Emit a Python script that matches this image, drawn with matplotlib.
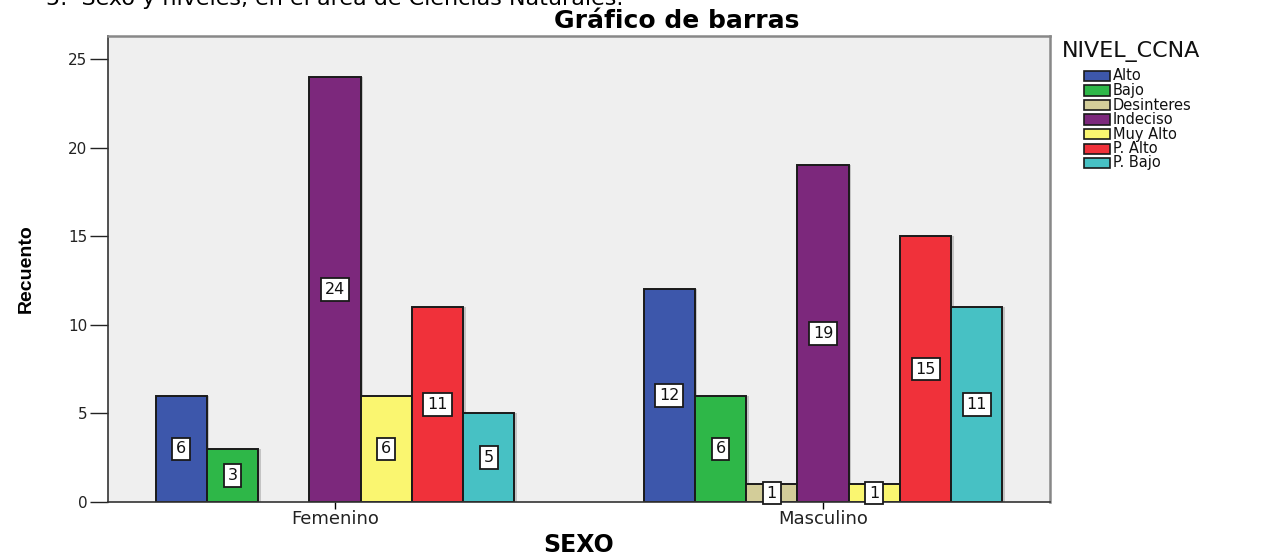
import numpy as np
import matplotlib
matplotlib.use("Agg")
import matplotlib.pyplot as plt
from matplotlib.patches import Rectangle

plt.rcParams['font.family'] = ['DejaVu Sans']

# data
sexo = ["Femenino", "Masculino"]
niveles = ["Alto", "Bajo", "Desinteres", "Indeciso", "Muy Alto", "P. Alto", "P. Bajo"]
fem = [6, 3, 0, 24, 6, 11, 5]
masc = [12, 6, 1, 19, 1, 15, 11]
colores = ["#3D57AB", "#2EB748", "#D3CD99", "#7C287C", "#FAF670", "#F0313A", "#47C1C4"]

W, H = 1267, 555
fig = plt.figure(figsize=(W / 100, H / 100), dpi=100)
ax = fig.add_axes([108 / W, 1 - 502 / H, (1050 - 108) / W, (502 - 36) / H])
ax.set_facecolor("#EFEFEF")

w = 0.105
x = np.arange(len(sexo))
for i, nivel in enumerate(niveles):
    vals = [fem[i], masc[i]]
    pos = x + (i - 3) * w
    for p, v in zip(pos, vals):
        if v == 0:
            continue
        # faint drop shadow like the original export
        ax.bar(p + 0.005, v, width=w, color="#9a9a9a", alpha=0.5, linewidth=0, zorder=1.5)
        ax.bar(p, v, width=w, color=colores[i], edgecolor="#1a1a1a", linewidth=1.4, zorder=2)
        ax.text(p, v / 2, str(v), ha="center", va="center", fontsize=11.5, zorder=3,
                color="#111111",
                bbox=dict(boxstyle="square,pad=0.24", fc="white", ec="#1a1a1a", lw=1.3))

ax.set_xlim(-0.465, 1.465)
ax.set_ylim(0, 26.3)
ax.set_xticks(x)
ax.set_xticklabels(sexo, fontsize=13, color="#222222")
ax.set_yticks([0, 5, 10, 15, 20, 25])
ax.tick_params(axis="y", length=13, width=1, labelsize=11, colors="#222222", pad=2)
ax.tick_params(axis="x", length=5, width=1, pad=1)

for s in ["left", "bottom"]:
    ax.spines[s].set_color("#333333")
    ax.spines[s].set_linewidth(1.2)
for s in ["top", "right"]:
    ax.spines[s].set_color("#888888")
    ax.spines[s].set_linewidth(1.8)

ax.set_ylabel("Recuento", fontsize=14, fontweight="bold",
              family=["Liberation Sans Narrow", "Liberation Sans"], labelpad=24)

fig.text(579 / W, 1 - 552 / H, "SEXO", ha="center", va="baseline",
         fontsize=17, fontweight="bold")
fig.text(677 / W, 1 - 28 / H, "Gráfico de barras", ha="center", va="baseline",
         fontsize=18, fontweight="bold")
fig.text(46 / W, 1 - 5 / H, "5.  Sexo y niveles, en el área de Ciencias Naturales.",
         ha="left", va="baseline", fontsize=16)

# legend, laid out by hand to keep the tight row spacing
fig.text(1062 / W, 1 - 52 / H, "NIVEL_CCNA", ha="left", va="center", fontsize=16,
         color="#111111")
for i, (nivel, c) in enumerate(zip(niveles, colores)):
    yc = 76 + 14.5 * i
    fig.patches.append(Rectangle((1084 / W, 1 - (yc + 5) / H), 26 / W, 10 / H,
                                 transform=fig.transFigure, facecolor=c,
                                 edgecolor="#1a1a1a", linewidth=1.2))
    fig.text(1113 / W, 1 - yc / H, nivel, ha="left", va="center", fontsize=10.5,
             color="#111111")

fig.savefig("out.png", dpi=100)
